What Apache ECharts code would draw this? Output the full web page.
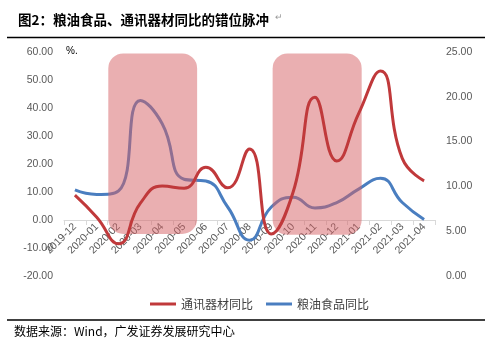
<!DOCTYPE html>
<html>
<head>
<meta charset="utf-8">
<script src="https://cdn.jsdelivr.net/npm/echarts@6/dist/echarts.min.js"></script>
<style>html,body{margin:0;padding:0;background:#fff;}#c{width:486px;height:344px;}</style>
</head>
<body>
<div id="c"></div>
<script>
const categories = ['2019-12','2020-01','2020-02','2020-03','2020-04','2020-05','2020-06','2020-07','2020-08','2020-09','2020-10','2020-11','2020-12','2021-01','2021-02','2021-03','2021-04'];
const commEquip = [8.9, 1.0, -8.5, 6.0, 12.1, 11.3, 18.8, 11.5, 25.4, -5.0, 10.0, 43.8, 21.1, 38.0, 53.2, 22.0, 14.0];
const grainOil = [9.6, 9.1, 9.5, 19.6, 17.0, 10.8, 10.6, 7.7, 4.0, 7.7, 8.8, 7.6, 8.2, 9.7, 10.9, 8.2, 6.3];
const leftTicks = {min: -20, max: 60, interval: 10};
const rightTicks = {min: 0, max: 25, interval: 5};
// highlight bands: [start index, end index, top value, bottom value] (fractional category index, left axis units)
const bands = [[1.53, 5.6, 59.5, -5], [9.06, 13.14, 59.5, -5.3]];

const chart = echarts.init(document.getElementById('c'), null, {renderer: 'canvas'});
const lbl = {color: '#595959', fontSize: 10.5, fontFamily: 'Liberation Sans, Arial, sans-serif'};
function bandX(api, v, yv) {
  const i = Math.floor(v);
  const frac = v - i;
  const bw = api.size([1, 0])[0];
  const p = api.coord([i, yv]);
  return [p[0] + frac * bw, p[1]];
}
chart.setOption({
  animation: false,
  title: {
    text: '图2：粮油食品、通讯器材同比的错位脉冲',
    left: 13, top: 8,
    textStyle: {fontSize: 13.5, fontWeight: 'bold', color: '#000', fontFamily: 'Noto Sans CJK SC'}
  },
  graphic: [
    {type: 'text', left: 275, top: 13, style: {text: '↵', fill: '#999', fontSize: 9}},
    {type: 'line', shape: {x1: 7, y1: 37.5, x2: 485, y2: 37.5}, style: {stroke: '#000', lineWidth: 1.5}},
    {type: 'text', left: 66, top: 46, style: {text: '%.', fill: '#000', fontSize: 10, fontFamily: 'Liberation Sans, Arial'}},
    {type: 'line', shape: {x1: 7, y1: 320, x2: 485, y2: 320}, style: {stroke: '#000', lineWidth: 1.5}},
    {type: 'text', left: 14, top: 325, style: {text: '数据来源：Wind，广发证券发展研究中心', fill: '#000', fontSize: 12, fontFamily: 'Noto Sans CJK SC'}},
    {type: 'text', left: 230, top: 332, style: {text: '↵', fill: '#999', fontSize: 7}}
  ],
  legend: {
    left: 145, top: 293,
    itemWidth: 26, itemHeight: 3, itemGap: 13,
    icon: 'rect',
    textStyle: {fontSize: 12, color: '#404040', fontFamily: 'Noto Sans CJK SC'},
    data: ['通讯器材同比', '粮油食品同比']
  },
  grid: {left: 64, right: 51, top: 52, bottom: 68},
  xAxis: {
    type: 'category',
    data: categories,
    boundaryGap: true,
    axisLine: {onZero: false, lineStyle: {color: '#D9D9D9', width: 1}},
    axisTick: {show: true, length: 5, lineStyle: {color: '#D9D9D9'}},
    axisLabel: Object.assign({rotate: 45, margin: 5, interval: 0}, lbl)
  },
  yAxis: [{
    type: 'value', min: leftTicks.min, max: leftTicks.max, interval: leftTicks.interval,
    axisLine: {show: false}, axisTick: {show: false}, splitLine: {show: false},
    axisLabel: Object.assign({margin: 11, formatter: v => v.toFixed(2)}, lbl)
  }, {
    type: 'value', min: rightTicks.min, max: rightTicks.max, interval: rightTicks.interval,
    axisLine: {show: false}, axisTick: {show: false}, splitLine: {show: false},
    axisLabel: Object.assign({margin: 11, formatter: v => v.toFixed(2)}, lbl)
  }],
  series: [{
    name: '粮油食品同比', type: 'line', yAxisIndex: 1, data: grainOil,
    smooth: 0.5, symbol: 'none', z: 2,
    lineStyle: {color: '#4A7EC0', width: 3}, itemStyle: {color: '#4A7EC0'}
  }, {
    name: 'bands', type: 'custom', yAxisIndex: 0, z: 3,
    data: bands,
    encode: {x: -1, y: -1},
    renderItem: function (params, api) {
      const p0 = bandX(api, api.value(0), api.value(2));
      const p1 = bandX(api, api.value(1), api.value(3));
      return {
        type: 'rect',
        shape: {x: p0[0], y: p0[1], width: p1[0] - p0[0], height: p1[1] - p0[1], r: 15},
        style: {fill: 'rgba(214,96,100,0.5)'}
      };
    },
    silent: true
  }, {
    name: '通讯器材同比', type: 'line', yAxisIndex: 0, data: commEquip,
    smooth: 0.5, symbol: 'none', z: 4,
    lineStyle: {color: '#C0393B', width: 3}, itemStyle: {color: '#C0393B'}
  }]
});
// move the category axis to the zero line of the left value axis
const zeroY = chart.convertToPixel({yAxisIndex: 0}, 0);
const bottomY = chart.convertToPixel({yAxisIndex: 0}, leftTicks.min);
chart.setOption({xAxis: {offset: zeroY - bottomY}});
</script>
</body>
</html>
